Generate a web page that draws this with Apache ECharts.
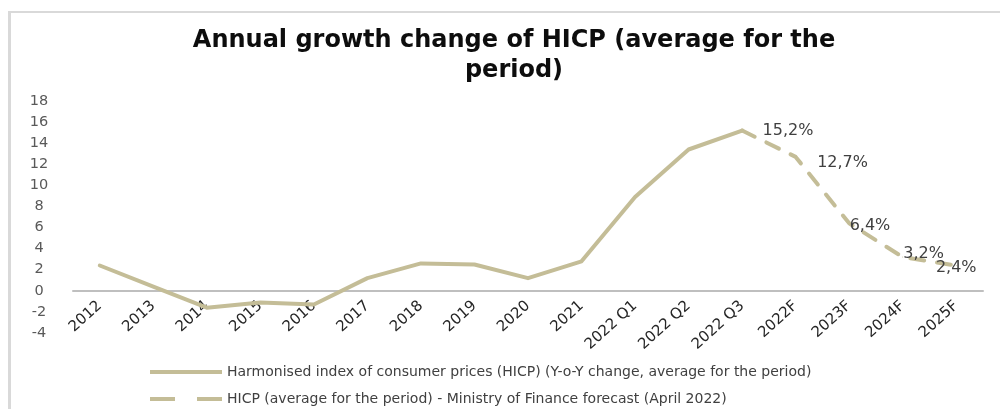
<!DOCTYPE html>
<html>
<head>
<meta charset="utf-8">
<script src="https://cdn.jsdelivr.net/npm/echarts@6/dist/echarts.min.js"></script>
<style>
  html, body { margin: 0; padding: 0; background: #ffffff; }
  #chart { width: 1000px; height: 409px; }
</style>
</head>
<body>
<div id="chart"></div>
<script>
// Periods on the horizontal axis
const categories = ['2012', '2013', '2014', '2015', '2016', '2017', '2018', '2019', '2020', '2021',
  '2022 Q1', '2022 Q2', '2022 Q3', '2022F', '2023F', '2024F', '2025F'];

// Observed HICP, y-o-y change (average for the period), %
const hicpActual = [2.4, 0.4, -1.6, -1.1, -1.3, 1.2, 2.6, 2.5, 1.2, 2.8, 8.9, 13.4, 15.2,
  null, null, null, null];

// Ministry of Finance forecast (April 2022), starting from 2022 Q3
const hicpForecast = [null, null, null, null, null, null, null, null, null, null, null, null,
  15.2, 12.7, 6.4, 3.2, 2.4];

// Y-axis range and step
const yMin = -4, yMax = 18, yStep = 2;

const seriesNames = [
  'Harmonised index of consumer prices (HICP) (Y-o-Y change, average for the period)',
  'HICP (average for the period) - Ministry of Finance forecast (April 2022)'
];

const lineColor = '#C4BD97';
const fontFamily = '"DejaVu Sans", "Open Sans", sans-serif';

// Plot area; the category axis is lifted so it runs along the zero level
const gridTop = 101, gridBottom = 76, chartHeight = 409;
const plotHeight = chartHeight - gridTop - gridBottom;
const zeroShift = plotHeight * (0 - yMin) / (yMax - yMin);

// Individual placement of the forecast value labels
const labelPlacement = {
  12: { position: 'right', distance: 20, offset: [0, 0] },
  13: { position: 'right', distance: 21, offset: [0, 6] },
  14: { position: 'right', distance: 0, offset: [0, 3] },
  15: { position: 'right', distance: 0, offset: [0, -3] },
  16: { position: 'inside', distance: 0, offset: [0, 2] }
};

const forecastData = hicpForecast.map((v, i) => {
  if (v === null) return null;
  const p = labelPlacement[i] || { position: 'right', distance: 8, offset: [0, 0] };
  return {
    value: v,
    label: {
      show: true,
      position: p.position,
      distance: p.distance,
      offset: p.offset
    }
  };
});

const legendText = { fontFamily: fontFamily, fontSize: 14, color: '#404040' };

const chart = echarts.init(document.getElementById('chart'), null, { renderer: 'canvas' });

chart.setOption({
  backgroundColor: '#ffffff',
  animation: false,
  title: {
    text: 'Annual growth change of HICP (average for the\nperiod)',
    left: 509,
    top: 21,
    textAlign: 'center',
    textStyle: {
      fontFamily: fontFamily,
      fontWeight: 'bold',
      fontSize: 24,
      lineHeight: 30,
      color: '#0d0d0d'
    }
  },
  legend: [
    {
      left: 145,
      top: 360,
      itemWidth: 72,
      itemHeight: 14,
      textStyle: legendText,
      data: [{ name: seriesNames[0], icon: 'path://M0,0H72V4H0Z', itemStyle: { color: lineColor } }]
    },
    {
      left: 145,
      top: 387,
      itemWidth: 72,
      itemHeight: 14,
      textStyle: legendText,
      data: [{ name: seriesNames[1], icon: 'path://M0,0H25V4H0ZM47,0H72V4H47Z', itemStyle: { color: lineColor } }]
    }
  ],
  grid: { left: 73, right: 17, top: gridTop, bottom: gridBottom, containLabel: false },
  xAxis: {
    type: 'category',
    data: categories,
    boundaryGap: true,
    offset: -zeroShift,
    axisLine: { show: true, onZero: false, lineStyle: { color: '#BFBFBF', width: 2 } },
    axisTick: { show: false },
    axisLabel: {
      rotate: 42,
      margin: 13,
      interval: 0,
      fontFamily: fontFamily,
      fontSize: 15,
      color: '#262626'
    },
    splitLine: { show: false }
  },
  yAxis: {
    type: 'value',
    min: yMin,
    max: yMax,
    interval: yStep,
    axisLine: { show: false },
    axisTick: { show: false },
    splitLine: { show: false },
    axisLabel: {
      align: 'center',
      margin: 34,
      fontFamily: fontFamily,
      fontSize: 14.5,
      color: '#595959'
    }
  },
  series: [
    {
      name: seriesNames[0],
      type: 'line',
      data: hicpActual,
      symbol: 'none',
      connectNulls: false,
      lineStyle: { color: lineColor, width: 4, cap: 'round', join: 'round' },
      itemStyle: { color: lineColor },
      z: 3
    },
    {
      name: seriesNames[1],
      type: 'line',
      data: forecastData,
      symbol: 'circle',
      symbolSize: 1,
      showSymbol: true,
      connectNulls: false,
      lineStyle: { color: lineColor, width: 4, type: [14, 13], cap: 'round', join: 'round' },
      itemStyle: { color: lineColor },
      label: {
        show: true,
        fontFamily: fontFamily,
        fontSize: 16,
        color: '#404040',
        formatter: (d) => d.value.toFixed(1).replace('.', ',') + '%'
      },
      z: 3
    }
  ],
  graphic: [
    // Thin frame along the top and left edges
    { type: 'rect', shape: { x: 8, y: 11, width: 992, height: 2 }, style: { fill: '#D9D9D9' }, silent: true },
    { type: 'rect', shape: { x: 8, y: 11, width: 3, height: 398 }, style: { fill: '#D9D9D9' }, silent: true }
  ]
});
</script>
</body>
</html>
